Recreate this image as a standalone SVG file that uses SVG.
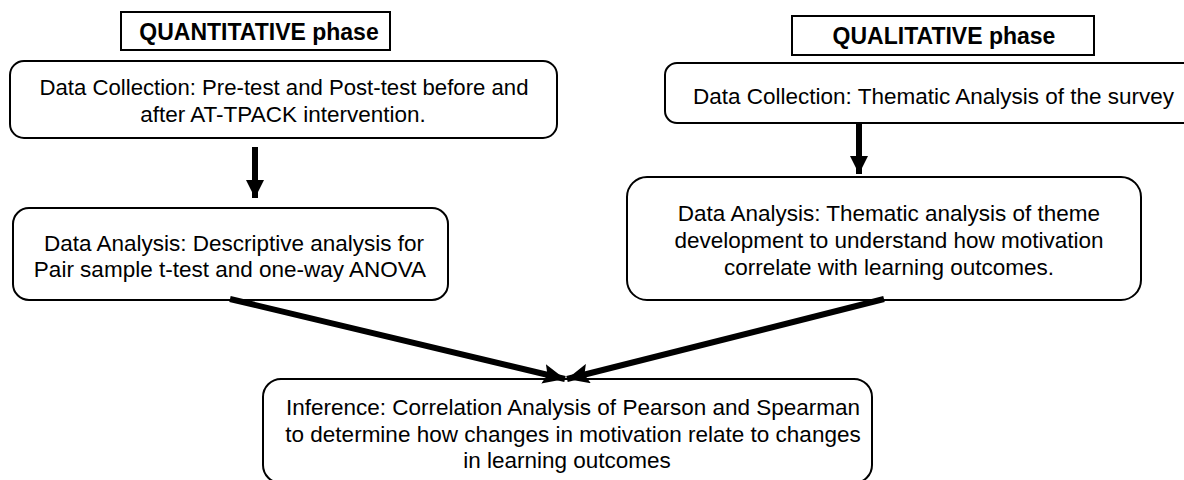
<svg xmlns="http://www.w3.org/2000/svg" width="1184" height="480" viewBox="0 0 1184 480">
<defs>
<style>
.box{fill:#fff;stroke:#000;stroke-width:2}
.t{font-family:"Liberation Sans",Arial,sans-serif;font-size:22.5px;fill:#000;text-anchor:middle}
.b{font-family:"Liberation Sans",Arial,sans-serif;font-size:23px;font-weight:bold;fill:#000;text-anchor:middle}
.c{stroke:#000;fill:none}
</style>
<marker id="ah" markerUnits="userSpaceOnUse" markerWidth="18" markerHeight="18" viewBox="0 0 18 18" refX="18" refY="9" orient="auto">
<path d="M0,0 L18,9 L0,18 Z" fill="#000"/>
</marker>
<marker id="ah2" markerUnits="userSpaceOnUse" markerWidth="22" markerHeight="20" viewBox="0 0 22 20" refX="22" refY="10" orient="auto">
<path d="M0,0 L22,10 L0,20 L4,10 Z" fill="#000"/>
</marker>
</defs>
<rect width="1184" height="480" fill="#fff"/>
<g id="quant-label">
<rect x="121" y="12" width="269" height="38" class="box"/>
<text x="259" y="40" class="b">QUANTITATIVE phase</text>
</g>
<g id="qual-label">
<rect x="792" y="16" width="302" height="39" class="box"/>
<text x="944" y="44" class="b">QUALITATIVE phase</text>
</g>
<g id="quant-collection">
<rect x="10" y="61" width="547" height="77" rx="14" class="box"/>
<text x="284" y="95" class="t" textLength="489" lengthAdjust="spacingAndGlyphs">Data Collection: Pre-test and Post-test before and</text>
<text x="283" y="122" class="t">after AT-TPACK intervention.</text>
</g>
<g id="quant-analysis">
<rect x="13" y="208" width="435" height="92" rx="16" class="box"/>
<text x="234" y="251" class="t">Data Analysis: Descriptive analysis for</text>
<text x="230" y="277" class="t">Pair sample t-test and one-way ANOVA</text>
</g>
<g id="qual-collection">
<rect x="665" y="63" width="540" height="60" rx="12" class="box"/>
<text x="693" y="104" class="t" style="text-anchor:start">Data Collection: Thematic Analysis of the survey</text>
</g>
<g id="qual-analysis">
<rect x="627" y="177" width="514" height="123" rx="20" class="box"/>
<text x="889" y="221" class="t">Data Analysis: Thematic analysis of theme</text>
<text x="889" y="248" class="t">development to understand how motivation</text>
<text x="889" y="275" class="t">correlate with learning outcomes.</text>
</g>
<g id="inference">
<rect x="263" y="379" width="609" height="104" rx="18" class="box"/>
<text x="573" y="415" class="t">Inference: Correlation Analysis of Pearson and Spearman</text>
<text x="573" y="442" class="t">to determine how changes in motivation relate to changes</text>
<text x="567" y="468" class="t">in learning outcomes</text>
</g>
<g id="connectors">
<line x1="255" y1="147" x2="255" y2="198" class="c" stroke-width="6" marker-end="url(#ah)"/>
<line x1="859" y1="123" x2="859" y2="174" class="c" stroke-width="6" marker-end="url(#ah)"/>
<line x1="230" y1="299" x2="565" y2="379" class="c" stroke-width="6" marker-end="url(#ah2)"/>
<line x1="884" y1="299" x2="567" y2="379" class="c" stroke-width="6" marker-end="url(#ah2)"/>
</g>
</svg>
